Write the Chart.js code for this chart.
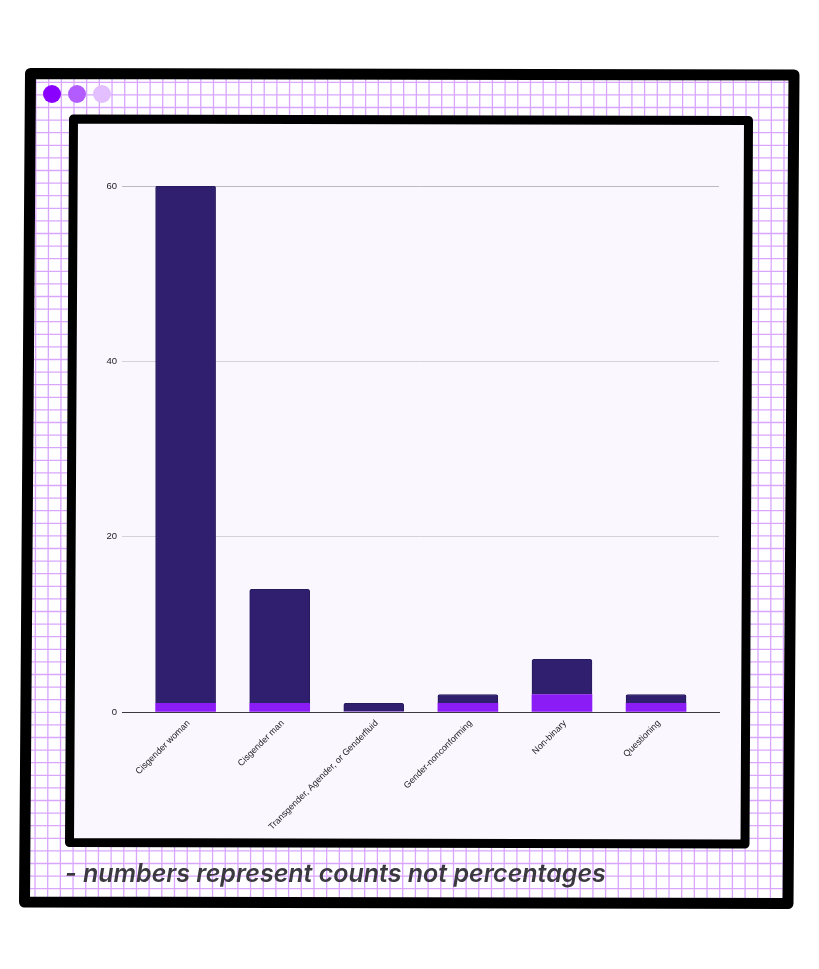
<!DOCTYPE html>
<html>
<head>
<meta charset="utf-8">
<title>Gender counts</title>
<script src="https://cdn.jsdelivr.net/npm/chart.js@4"></script>
<style>
html, body { margin: 0; padding: 0; background: #fff; }
#wrap { position: relative; width: 819px; height: 969px; overflow: hidden; }
canvas { display: block; }
#note {
    position: absolute; left: 65px; top: 858px; white-space: nowrap;
    font: italic 600 25px Inter, "Liberation Sans", Arial, sans-serif;
    color: #3b3940; filter: blur(0.4px);
}
</style>
</head>
<body>
<div id="wrap">
    <canvas id="typesChart" width="819" height="969"></canvas>
    <div id="note">- numbers represent counts not percentages</div>
</div>
<script>
const categories = ['Cisgender woman', 'Cisgender man', 'Transgender, Agender, or Genderfluid', 'Gender-nonconforming', 'Non-binary', 'Questioning'];
const lowerValues = [1, 1, 0, 1, 2, 1];
const upperValues = [59, 13, 1, 1, 4, 1];
const yTicks = [0, 20, 40, 60];

function poly(c, pts) {
    c.beginPath();
    c.moveTo(pts[0][0], pts[0][1]);
    for (let i = 1; i < pts.length; i++) c.lineTo(pts[i][0], pts[i][1]);
    c.closePath();
}

// window frame, graph paper, dots and inner panel behind the chart
const backdrop = {
    id: 'backdrop',
    beforeDraw(chart) {
        const c = chart.ctx;
        const outer = [[30.5, 73.5], [794, 75], [788, 903.5], [24.5, 902]];
        const inner = [[73.5, 119], [748.5, 120.5], [745, 844], [69.5, 842.5]];
        c.save();
        c.fillStyle = '#fff';
        c.fillRect(0, 0, 819, 969);

        c.save();
        poly(c, outer);
        c.clip();
        c.strokeStyle = '#d9a6ff';
        c.lineWidth = 1.3;
        for (let x = 23.3; x < 800; x += 12.68) {
            c.beginPath(); c.moveTo(x, 70); c.lineTo(x - 1, 905); c.stroke();
        }
        for (let y = 82.3; y < 905; y += 12.6) {
            c.beginPath(); c.moveTo(20, y); c.lineTo(800, y); c.stroke();
        }
        c.restore();

        c.lineJoin = 'round';
        poly(c, inner);
        c.fillStyle = '#fbf7ff';
        c.fill();
        c.lineWidth = 9;
        c.strokeStyle = '#000';
        c.stroke();
        poly(c, outer);
        c.lineWidth = 11;
        c.stroke();

        [[52, '#8a00ff'], [77, '#b25cff'], [102, '#e3bfff']].forEach(d => {
            c.beginPath();
            c.arc(d[0], 94, 9, 0, Math.PI * 2);
            c.fillStyle = d[1];
            c.fill();
        });
        c.restore();
    }
};

const ctx = document.getElementById('typesChart').getContext('2d');

new Chart(ctx, {
    type: 'bar',
    plugins: [backdrop],
    data: {
        datasets: [{
            label: 'Lower',
            data: lowerValues.map((v, i) => ({ x: i, y: v })),
            backgroundColor: '#8c1cf5',
            borderWidth: 0,
            barThickness: 60,
        }, {
            label: 'Upper',
            data: upperValues.map((v, i) => ({ x: i, y: v })),
            backgroundColor: '#2f1f6e',
            borderColor: '#261a5c',
            borderWidth: 1,
            borderRadius: { topLeft: 2, topRight: 2 },
            borderSkipped: 'bottom',
            barThickness: 60,
        }]
    },
    options: {
        responsive: false,
        animation: false,
        layout: { padding: { top: 186, right: 100, bottom: 0, left: 0 } },
        plugins: {
            legend: { display: false },
            tooltip: { enabled: false },
        },
        scales: {
            x: {
                type: 'linear',
                stacked: true,
                offset: false,
                min: -0.676,
                max: 5.669,
                afterBuildTicks(scale) {
                    scale.ticks = categories.map((c, i) => ({ value: i }));
                },
                afterFit(scale) { scale.height = 257; },
                grid: { display: false, drawTicks: false },
                border: { display: true, color: '#3a3840', width: 1, z: 2 },
                ticks: {
                    autoSkip: false,
                    minRotation: 45,
                    maxRotation: 45,
                    padding: 6,
                    labelOffset: 3,
                    color: '#222',
                    font: { size: 9, family: '"Liberation Sans", Arial' },
                    callback: v => categories[v],
                },
            },
            y: {
                stacked: true,
                min: 0,
                max: 60,
                afterBuildTicks(scale) {
                    scale.ticks = yTicks.map(v => ({ value: v }));
                },
                afterFit(scale) { scale.width = 122; },
                border: { display: false },
                grid: {
                    drawTicks: false,
                    lineWidth: 1,
                    color: c => c.tick.value === 60 ? '#bdb9c4' : '#d6d2dc',
                },
                ticks: {
                    padding: 5,
                    color: '#222',
                    font: { size: 9.5, family: '"Liberation Sans", Arial' },
                },
            },
        },
    },
});
</script>
</body>
</html>
